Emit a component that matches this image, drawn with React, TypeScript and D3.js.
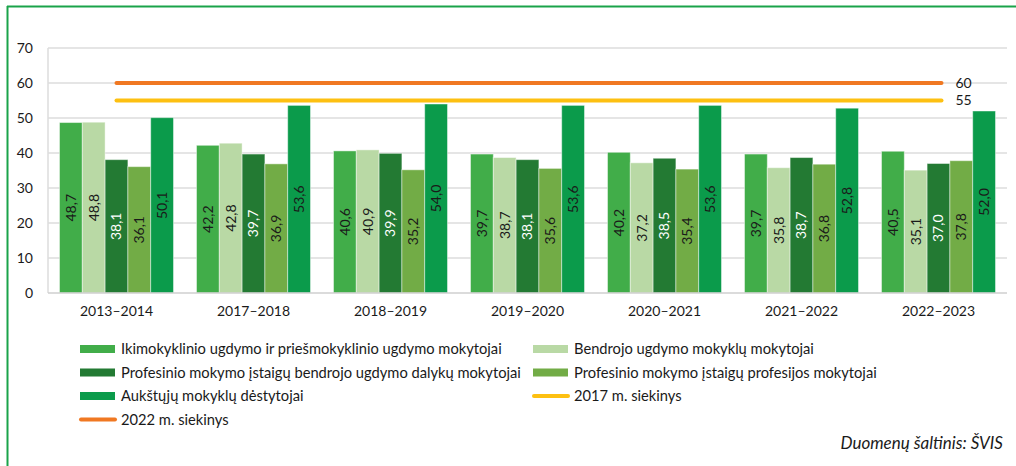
import { useEffect, useRef } from 'react';
import * as d3 from 'd3';

const years = ['2013–2014', '2017–2018', '2018–2019', '2019–2020', '2020–2021', '2021–2022', '2022–2023'];
const seriesNames = [
  'Ikimokyklinio ugdymo ir priešmokyklinio ugdymo mokytojai',
  'Bendrojo ugdymo mokyklų mokytojai',
  'Profesinio mokymo įstaigų bendrojo ugdymo dalykų mokytojai',
  'Profesinio mokymo įstaigų profesijos mokytojai',
  'Aukštųjų mokyklų dėstytojai',
];
const preschool = [48.7, 42.2, 40.6, 39.7, 40.2, 39.7, 40.5];
const general = [48.8, 42.8, 40.9, 38.7, 37.2, 35.8, 35.1];
const vocGeneral = [38.1, 39.7, 39.9, 38.1, 38.5, 38.7, 37.0];
const vocProf = [36.1, 36.9, 35.2, 35.6, 35.4, 36.8, 37.8];
const higher = [50.1, 53.6, 54.0, 53.6, 53.6, 52.8, 52.0];
const targetNames = ['2017 m. siekinys', '2022 m. siekinys'];
const targets = [55, 60];
const yTicks = [0, 10, 20, 30, 40, 50, 60, 70];

const barColors = ['#41ad49', '#b9d9a5', '#237a33', '#72ac46', '#0b9b4b'];
const targetColors = ['#fdc011', '#f07822'];
const FONT = 'Lato, "Open Sans", sans-serif';

const App = () => {
  const ref = useRef<SVGSVGElement>(null);

  useEffect(() => {
    const svg = d3.select(ref.current);
    svg.selectAll('*').remove();
    const values = [preschool, general, vocGeneral, vocProf, higher];

    const left = 48, right = 1007, top = 48, bottom = 293;
    const x0 = d3.scaleBand().domain(years).range([left, right]).paddingInner(0.168).paddingOuter(0.084);
    const x1 = d3.scaleBand().domain(d3.range(5).map(String)).range([0, x0.bandwidth()]);
    const y = d3.scaleLinear().domain([0, 70]).range([bottom, top]);

    // frame
    svg.append('line').attr('x1', 7).attr('x2', 1016).attr('y1', 6.5).attr('y2', 6.5)
      .attr('stroke', '#1aa34a').attr('stroke-width', 2);
    svg.append('line').attr('x1', 7.5).attr('x2', 7.5).attr('y1', 6).attr('y2', 466)
      .attr('stroke', '#1aa34a').attr('stroke-width', 2);

    // grid
    svg.append('g').selectAll('line').data(yTicks.slice(1)).enter().append('line')
      .attr('x1', left).attr('x2', right)
      .attr('y1', d => y(d)).attr('y2', d => y(d))
      .attr('stroke', '#dcdcdc').attr('stroke-width', 1.5);
    svg.append('line').attr('x1', left).attr('x2', left).attr('y1', top).attr('y2', bottom)
      .attr('stroke', '#dcdcdc').attr('stroke-width', 1.5);

    svg.append('g').selectAll('text').data(yTicks).enter().append('text')
      .attr('x', 33).attr('y', d => y(d)).attr('dy', '0.35em')
      .attr('text-anchor', 'end').attr('font-size', 14).attr('font-family', FONT).attr('fill', '#1a1a1a')
      .text(d => d);

    // bars
    values.forEach((vals, si) => {
      const g = svg.append('g');
      g.selectAll('rect').data(vals).enter().append('rect')
        .attr('x', (d, i) => (x0(years[i]) as number) + (x1(String(si)) as number))
        .attr('y', d => y(d))
        .attr('width', x1.bandwidth())
        .attr('height', d => bottom - y(d))
        .attr('fill', barColors[si])
        .attr('stroke', 'rgba(255,255,255,0.45)').attr('stroke-width', 1);
      g.selectAll('text').data(vals).enter().append('text')
        .attr('transform', (d, i) => {
          const cx = (x0(years[i]) as number) + (x1(String(si)) as number) + x1.bandwidth() / 2;
          const cy = (y(d) + bottom) / 2;
          return `translate(${cx},${cy}) rotate(-90)`;
        })
        .attr('text-anchor', 'middle').attr('dy', '0.35em')
        .attr('font-size', 14).attr('font-family', FONT)
        .attr('fill', si === 2 ? '#ffffff' : '#1a1a1a')
        .text(d => d.toFixed(1).replace('.', ','));
    });

    // axis line
    svg.append('line').attr('x1', left).attr('x2', right).attr('y1', bottom).attr('y2', bottom)
      .attr('stroke', '#cfcfcf').attr('stroke-width', 1.5);

    svg.append('g').selectAll('text').data(years).enter().append('text')
      .attr('x', d => (x0(d) as number) + x0.bandwidth() / 2).attr('y', 316)
      .attr('text-anchor', 'middle').attr('font-size', 14).attr('font-family', FONT).attr('fill', '#1a1a1a')
      .text(d => d);

    // target lines
    const lx1 = (x0(years[0]) as number) + x0.bandwidth() / 2;
    const lx2 = (x0(years[years.length - 1]) as number) + x0.bandwidth() / 2 + 3;
    targets.forEach((t, i) => {
      svg.append('line').attr('x1', lx1).attr('x2', lx2).attr('y1', y(t)).attr('y2', y(t))
        .attr('stroke', targetColors[i]).attr('stroke-width', 4).attr('stroke-linecap', 'round');
      svg.append('text').attr('x', lx2 + 14).attr('y', y(t)).attr('dy', '0.35em')
        .attr('font-size', 14).attr('font-family', FONT).attr('fill', '#1a1a1a').text(t);
    });

    // legend
    const legend = [
      { name: seriesNames[0], color: barColors[0], type: 'rect' },
      { name: seriesNames[1], color: barColors[1], type: 'rect' },
      { name: seriesNames[2], color: barColors[2], type: 'rect' },
      { name: seriesNames[3], color: barColors[3], type: 'rect' },
      { name: seriesNames[4], color: barColors[4], type: 'rect' },
      { name: targetNames[0], color: targetColors[0], type: 'line' },
      { name: targetNames[1], color: targetColors[1], type: 'line' },
    ];
    const lg = svg.append('g');
    legend.forEach((d, i) => {
      const lxp = i % 2 === 0 ? 80 : 533;
      const lyp = 349 + Math.floor(i / 2) * 23.5;
      if (d.type === 'rect') {
        lg.append('rect').attr('x', lxp).attr('y', lyp - 4).attr('width', 35).attr('height', 8).attr('fill', d.color);
      } else {
        lg.append('line').attr('x1', lxp + 1).attr('x2', lxp + 35).attr('y1', lyp).attr('y2', lyp)
          .attr('stroke', d.color).attr('stroke-width', 4).attr('stroke-linecap', 'round');
      }
      lg.append('text').attr('x', lxp + 41).attr('y', lyp).attr('dy', '0.35em')
        .attr('font-size', 14.7).attr('font-family', FONT).attr('fill', '#1a1a1a').text(d.name);
    });

    svg.append('text').attr('x', 1003).attr('y', 443).attr('dy', '0.35em').attr('text-anchor', 'end')
      .attr('font-size', 17).attr('font-style', 'italic').attr('font-family', FONT).attr('fill', '#1a1a1a')
      .text('Duomenų šaltinis: ŠVIS');
  }, []);

  return (
    <svg ref={ref} width={1016} height={466} style={{ position: 'absolute', left: 0, top: 0, background: '#fff' }} />
  );
};

export default App;
